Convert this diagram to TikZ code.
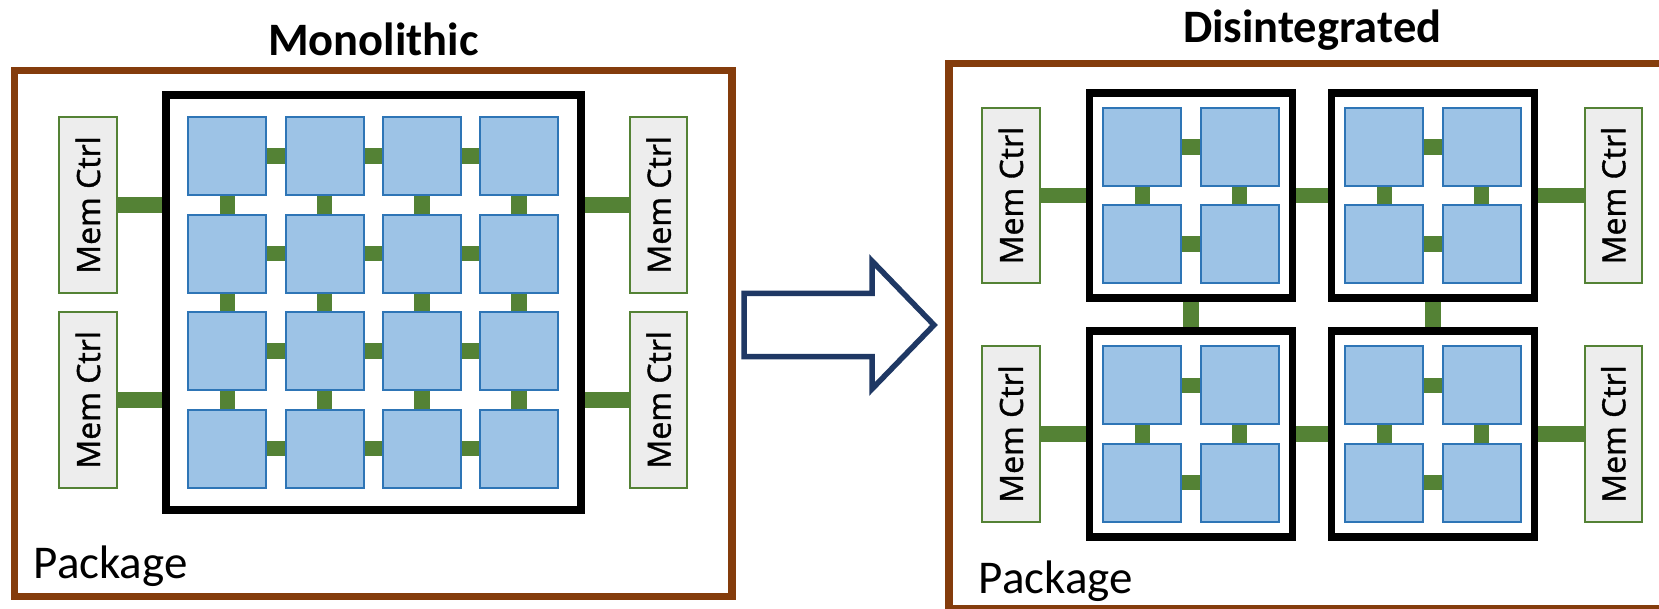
\documentclass[tikz,border=0pt]{standalone}
\usepackage{fontspec}
\setmainfont{Carlito}
\newfontfamily\mcfont[FakeBold=1.2]{Open Sans}
\usepackage{graphicx}
\definecolor{pkgbrown}{HTML}{843C0C}
\definecolor{tilefill}{HTML}{9DC3E6}
\definecolor{tileline}{HTML}{2E75B6}
\definecolor{wiregreen}{HTML}{548235}
\definecolor{mcfill}{HTML}{EDEDED}
\definecolor{arrownavy}{HTML}{1F3864}
\begin{document}
\begin{tikzpicture}[x=1pt,y=-1pt,
  tile/.style={draw=tileline, fill=tilefill, line width=2pt, minimum width=78pt, minimum height=78pt, inner sep=0pt},
  memctrl/.style={draw=wiregreen, fill=mcfill, line width=2pt, minimum width=57.5pt, minimum height=175.5pt, inner sep=0pt, font=\mcfont\fontsize{32}{36}\selectfont},
  diebox/.style={draw=black, line width=8pt, inner sep=0pt},
  chipbox/.style={draw=black, line width=7.7pt, inner sep=0pt, minimum width=203pt, minimum height=205.5pt},
  pkgbox/.style={draw=pkgbrown, line width=7.5pt},
  wire/.style={draw=wiregreen, line width=15.5pt},
  titletext/.style={font=\bfseries\fontsize{46.5}{50}\selectfont, inner sep=0pt, anchor=base},
  pkglabel/.style={font=\fontsize{47}{50}\selectfont, inner sep=0pt, anchor=base west},
  bigarrow/.style={draw=arrownavy, line width=5.5pt, fill=white},
]
\useasboundingbox (0,0) rectangle (1659,609);
\clip (0,0) rectangle (1659,609);

% ---------- Monolithic ----------
\draw[pkgbox] (14.5,70.6) rectangle (732.2,596.3);
\node[titletext] (tmono) at (373.5,56) {Monolithic};
\node[pkglabel] (pkgL) at (33.5,578.7) {Package};

\node[diebox, minimum width=415.8pt, minimum height=415.1pt] (die) at (373.4,302.25) {};

\foreach \i in {0,...,3}
  \foreach \j in {0,...,3}
    \node[tile] (m\i\j) at ({227.3+97.3*\i},{156.2+97.5*\j}) {};

\foreach \i in {0,1,2}
  \foreach \j in {0,...,3} {
    \pgfmathtruncatemacro\k{\i+1}
    \draw[wire] (m\i\j.east) -- (m\k\j.west);
    \draw[wire] (m\j\i.south) -- (m\j\k.north);
  }

\node[memctrl] (mcL1) at (88,205) {\rotatebox{90}{Mem Ctrl}};
\node[memctrl] (mcL2) at (88,399.9) {\rotatebox{90}{Mem Ctrl}};
\node[memctrl] (mcR1) at (658.7,204.8) {\rotatebox{90}{Mem Ctrl}};
\node[memctrl] (mcR2) at (658.7,399.8) {\rotatebox{90}{Mem Ctrl}};
\draw[wire] (mcL1.east) -- (mcL1.east -| die.west);
\draw[wire] (mcL2.east) -- (mcL2.east -| die.west);
\draw[wire] (mcR1.west) -- (mcR1.west -| die.east);
\draw[wire] (mcR2.west) -- (mcR2.west -| die.east);

% ---------- Arrow ----------
\draw[bigarrow] (744,293.3) -- (872,293.3) -- (872,261) -- (934,325) -- (872,389) -- (872,356.7) -- (744,356.7) -- cycle;

% ---------- Disintegrated ----------
\draw[pkgbox] (948.8,63.3) rectangle (1720,608.3);
\node[titletext] (tdis) at (1312.2,42.3) {Disintegrated};
\node[pkglabel] (pkgR) at (978.5,593.3) {Package};

\node[chipbox] (c1) at (1191,195.6) {};
\node[chipbox] (c2) at (1433,195.6) {};
\node[chipbox] (c3) at (1191,434) {};
\node[chipbox] (c4) at (1433,434) {};

\foreach \c/\cx/\cy in {1/1191/195.6, 2/1433/195.6, 3/1191/434, 4/1433/434} {
  \node[tile] (t\c00) at ({\cx-48.6},{\cy-48.6}) {};
  \node[tile] (t\c10) at ({\cx+48.6},{\cy-48.6}) {};
  \node[tile] (t\c01) at ({\cx-48.6},{\cy+48.6}) {};
  \node[tile] (t\c11) at ({\cx+48.6},{\cy+48.6}) {};
  \draw[wire] (t\c00.east) -- (t\c10.west);
  \draw[wire] (t\c01.east) -- (t\c11.west);
  \draw[wire] (t\c00.south) -- (t\c01.north);
  \draw[wire] (t\c10.south) -- (t\c11.north);
}

\draw[wire] (c1.east) -- (c2.west);
\draw[wire] (c3.east) -- (c4.west);
\draw[wire] (c1.south) -- (c3.north);
\draw[wire] (c2.south) -- (c4.north);

\node[memctrl] (mcA1) at (1010.9,195.6) {\rotatebox{90}{Mem Ctrl}};
\node[memctrl] (mcA2) at (1010.9,434) {\rotatebox{90}{Mem Ctrl}};
\node[memctrl] (mcB1) at (1613.3,195.6) {\rotatebox{90}{Mem Ctrl}};
\node[memctrl] (mcB2) at (1613.3,434) {\rotatebox{90}{Mem Ctrl}};
\draw[wire] (mcA1.east) -- (c1.west);
\draw[wire] (mcA2.east) -- (c3.west);
\draw[wire] (c2.east) -- (mcB1.west);
\draw[wire] (c4.east) -- (mcB2.west);
\end{tikzpicture}
\end{document}
